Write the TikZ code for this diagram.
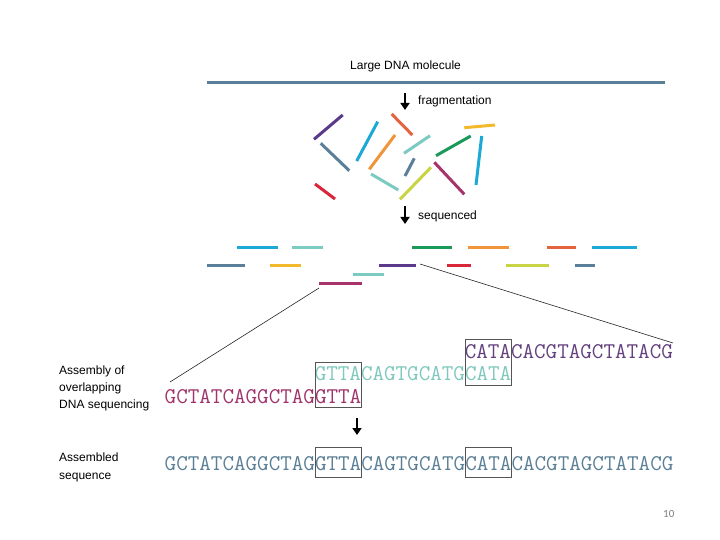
\documentclass[tikz,border=0pt]{standalone}
\usepackage{fontspec}
\setmainfont{Liberation Sans}
\newfontfamily\pgnumfont{Carlito}
\usetikzlibrary{arrows.meta}
\definecolor{steel}{HTML}{5B7F99}
\definecolor{cyanb}{HTML}{1BA9D6}
\definecolor{lteal}{HTML}{7CCBC2}
\definecolor{greenb}{HTML}{1A9A5A}
\definecolor{orangeb}{HTML}{F0953A}
\definecolor{orred}{HTML}{E5643F}
\definecolor{yellowb}{HTML}{F2B92D}
\definecolor{purpleb}{HTML}{5B3A8C}
\definecolor{redb}{HTML}{D9263A}
\definecolor{ygreen}{HTML}{C9D444}
\definecolor{magb}{HTML}{A8336B}
\definecolor{seqmag}{HTML}{A0336B}
\definecolor{seqteal}{HTML}{7EC8BD}
\definecolor{seqpur}{HTML}{63407E}
\definecolor{seqsteel}{HTML}{5B7F96}
\definecolor{boxgray}{HTML}{555555}
\begin{document}
\begin{tikzpicture}[x=1pt,y=-1pt,
  frag/.style={line width=3pt},
  bar/.style={line width=3pt},
  lbl/.style={inner sep=0pt, font=\fontsize{12}{14}\selectfont, text=black},
  seq/.style={inner sep=0pt, anchor=base west, font=\ttfamily\fontsize{22.45}{22.45}\selectfont},
  ovbox/.style={draw=boxgray, line width=0.8pt},
  downarr/.style={line width=2.4pt, -{Triangle[length=7pt,width=9pt]}},
  zoomline/.style={line width=0.6pt, draw=black!85}]
\useasboundingbox (0,0) rectangle (720,540);
\fill[white] (0,0) rectangle (720,540);

% top molecule
\node[lbl, anchor=base west] (title) at (350,70) {Large DNA molecule};
\coordinate (molL) at (207,83);
\coordinate (molR) at (665,83);
\draw[bar, steel] (molL) -- (molR);

% fragmentation arrow
\coordinate (fa1) at (405,93);
\coordinate (fa2) at (405,110);
\draw[downarr] (fa1) -- (fa2);
\node[lbl, anchor=base west] (frag) at (418,104.3) {fragmentation};

% scattered fragments
\draw[frag, purpleb] (314,139.3) -- (342.7,115);
\draw[frag, steel] (320.7,143.3) -- (349.3,170.7);
\draw[frag, redb] (315,184) -- (335,199);
\draw[frag, cyanb] (356.7,161) -- (377.7,121.7);
\draw[frag, orred] (391.7,114) -- (412.3,135);
\draw[frag, orangeb] (369.3,169.3) -- (395,135);
\draw[frag, lteal] (404,153.3) -- (430,135.7);
\draw[frag, steel] (405,176) -- (414.3,158.3);
\draw[frag, lteal] (371,174) -- (398.3,190);
\draw[frag, ygreen] (400,199.3) -- (431,167.3);
\draw[frag, magb] (434.3,162.3) -- (464.3,194.3);
\draw[frag, greenb] (436,155.7) -- (470.7,136);
\draw[frag, yellowb] (464.3,127.7) -- (495,125);
\draw[frag, cyanb] (476,185) -- (481.7,136);

% sequenced arrow
\coordinate (sa1) at (405,206);
\coordinate (sa2) at (405,224);
\draw[downarr] (sa1) -- (sa2);
\node[lbl, anchor=base west] (seqd) at (418,219.3) {sequenced};

% sequenced reads
\draw[bar, cyanb] (237,247) -- (278,247);
\draw[bar, lteal] (292,247) -- (323,247);
\draw[bar, greenb] (412,247) -- (452,247);
\draw[bar, orangeb] (468,247) -- (509,247);
\draw[bar, orred] (547,247) -- (576,247);
\draw[bar, cyanb] (592,247) -- (637,247);
\draw[bar, steel] (207,265) -- (245,265);
\draw[bar, yellowb] (270,265) -- (301,265);
\draw[bar, purpleb] (379,265) -- (416,265);
\draw[bar, redb] (447,265) -- (471,265);
\draw[bar, ygreen] (506,265) -- (549,265);
\draw[bar, steel] (575,265) -- (595,265);
\draw[bar, lteal] (353,274) -- (384,274);
\draw[bar, magb] (319,283) -- (362,283);

% zoom connectors
\coordinate (magend) at (319,288);
\coordinate (zoomL) at (170,382);
\coordinate (purend) at (420,264);
\coordinate (zoomR) at (673,343);
\draw[zoomline] (magend) -- (zoomL);
\draw[zoomline] (purend) -- (zoomR);

% left labels
\node[lbl, align=left, anchor=west, font=\fontsize{12}{16.7}\selectfont] (asmlbl) at (59,388.5) {Assembly of\\overlapping\\DNA sequencing};
\node[lbl, align=left, anchor=west, font=\fontsize{12}{18.3}\selectfont] (asdlbl) at (59,467.7) {Assembled\\sequence};

% overlapping reads
\node[seq, text=seqpur] (rpur) at (464.6,358) {CATACACGTAGCTATACG};
\node[seq, text=seqteal] (rteal) at (314.55,380) {GTTACAGTGCATGCATA};
\node[seq, text=seqmag] (rmag) at (164.5,403) {GCTATCAGGCTAGGTTA};

% overlap boxes
\draw[ovbox] (315.2,362) rectangle (361.4,407);
\draw[ovbox] (465.4,339) rectangle (511.6,385);

% assembly arrow
\coordinate (aa1) at (357,418);
\coordinate (aa2) at (357,435);
\draw[downarr] (aa1) -- (aa2);

% assembled sequence
\node[seq, text=seqsteel] (rall) at (164.5,470) {GCTATCAGGCTAGGTTACAGTGCATGCATACACGTAGCTATACG};
\draw[ovbox] (315.2,447) rectangle (361.4,477);
\draw[ovbox] (465.4,447) rectangle (511.6,477);

% page number
\node[inner sep=0pt, anchor=base west, font=\pgnumfont\fontsize{11}{12}\selectfont, text=black!50] (pg) at (663,517.3) {10};
\end{tikzpicture}
\end{document}
